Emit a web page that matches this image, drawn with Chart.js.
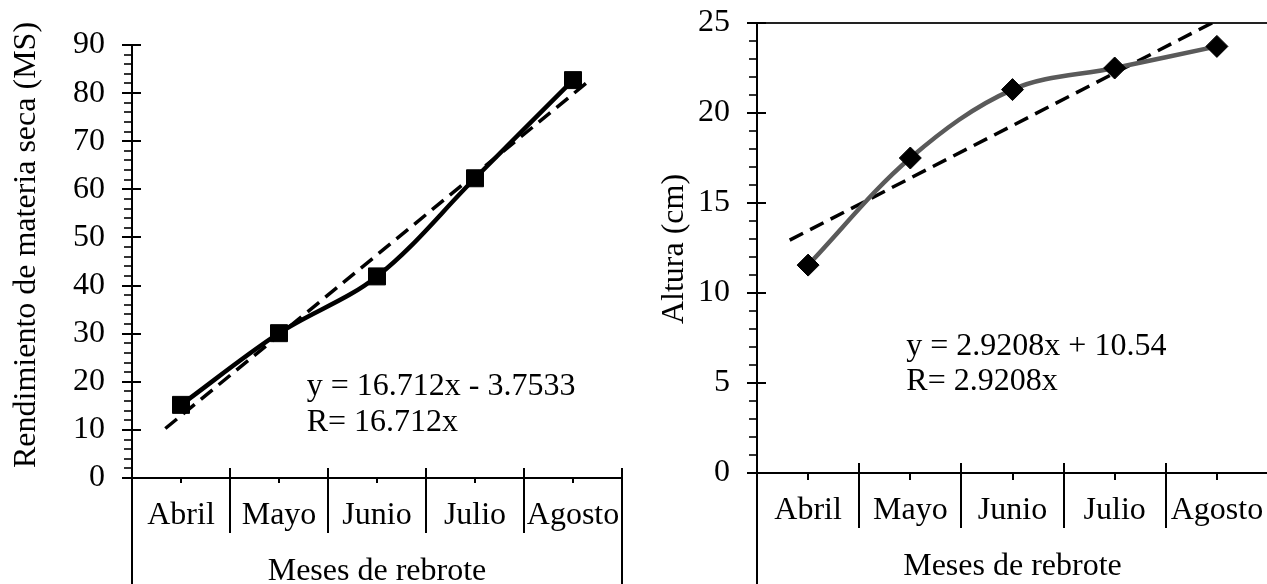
<!DOCTYPE html>
<html>
<head>
<meta charset="utf-8">
<script src="https://cdn.jsdelivr.net/npm/chart.js@4.4.1/dist/chart.umd.min.js"></script>
<style>
  html, body { margin: 0; padding: 0; background: #fff; overflow: hidden; }
  #wrap { position: relative; width: 1267px; height: 584px; overflow: hidden; }
  .panel { position: absolute; top: 0; width: 640px; height: 584px; }
  #left { left: 0; }
  #right { left: 640px; }
</style>
</head>
<body>
<div id="wrap">
  <div class="panel" id="left"><canvas id="msChart" width="640" height="584"></canvas></div>
  <div class="panel" id="right"><canvas id="heightChart" width="640" height="584"></canvas></div>
</div>
<script>
// ─── DATA ───
const months = ['Abril', 'Mayo', 'Junio', 'Julio', 'Agosto'];
const monthIndex = [1, 2, 3, 4, 5];

// dry matter yield per month
const dryMatter = [15.2, 30.1, 41.9, 62.3, 82.7];
// linear trend: slope, intercept, and the x span it is drawn over
const dryMatterTrend = [16.712, -3.7533];
const dryMatterSpan = [0.84, 5.14];
const dryMatterEq = ['y = 16.712x - 3.7533', 'R= 16.712x'];

// plant height per month
const plantHeight = [11.55, 17.5, 21.3, 22.5, 23.7];
const plantHeightTrend = [2.9208, 10.54];
const plantHeightSpan = [0.82, 4.96];
const plantHeightEq = ['y = 2.9208x + 10.54', 'R= 2.9208x'];

const FONT = { family: "'Liberation Serif', 'Times New Roman', serif", size: 32 };
const FONT_CSS = "32px 'Liberation Serif', 'Times New Roman', serif";
const CLEAR = 'rgba(0,0,0,0)';

function trendPoints(coef, span) {
  return span.map(x => ({ x: x, y: coef[0] * x + coef[1] }));
}

// ─── AXIS DECORATION: minor ticks, month dividers, titles, equation ───
function decorPlugin(cfg) {
  return {
    id: 'decor',
    afterDraw(chart) {
      const { ctx, chartArea: a, scales: { x, y } } = chart;
      const H = chart.height;
      ctx.save();
      ctx.strokeStyle = '#000';
      ctx.lineCap = 'butt';

      // y ticks (major ones cross the axis)
      for (let v = y.min; v <= y.max + 1e-9; v += cfg.minor) {
        const py = Math.round(y.getPixelForValue(v));
        const isMajor = Math.abs(v / cfg.major - Math.round(v / cfg.major)) < 1e-6;
        ctx.lineWidth = isMajor ? 2 : 1.6;
        ctx.beginPath();
        ctx.moveTo(a.left - (isMajor ? 10 : 8), py);
        ctx.lineTo(a.left + (isMajor ? 9 : 0), py);
        ctx.stroke();
      }

      // month dividers and centre ticks
      ctx.lineWidth = 2;
      for (let i = 0; i <= months.length; i++) {
        const px = Math.round(x.getPixelForValue(i + 0.5));
        const outer = i === 0 || i === months.length;
        ctx.beginPath();
        ctx.moveTo(px, a.bottom - (i === 0 ? 0 : 10));
        ctx.lineTo(px, outer ? H : a.bottom + 55);
        ctx.stroke();
      }
      monthIndex.forEach(m => {
        const px = Math.round(x.getPixelForValue(m));
        ctx.beginPath();
        ctx.moveTo(px, a.bottom);
        ctx.lineTo(px, a.bottom + cfg.centreTick);
        ctx.stroke();
      });

      ctx.fillStyle = '#000';
      ctx.font = FONT_CSS;

      // y axis title
      ctx.save();
      ctx.translate(cfg.titleX, cfg.titleY);
      ctx.rotate(-Math.PI / 2);
      ctx.textAlign = 'center';
      ctx.textBaseline = 'alphabetic';
      ctx.fillText(cfg.yTitle, 0, 0);
      ctx.restore();

      // regression equation
      ctx.textAlign = 'left';
      ctx.textBaseline = 'alphabetic';
      cfg.eq.forEach((line, k) => {
        ctx.fillText(line, x.getPixelForValue(cfg.eqAt[0]), y.getPixelForValue(cfg.eqAt[1 + k]));
      });
      ctx.restore();
    }
  };
}

function buildChart(id, o) {
  return new Chart(document.getElementById(id), {
    type: 'line',
    data: {
      datasets: [
        {
          data: o.values.map((v, i) => ({ x: monthIndex[i], y: v })),
          borderColor: o.lineColor,
          borderWidth: 4.5,
          tension: 0.35,
          pointStyle: o.marker,
          pointRadius: o.markerSize,
          pointBackgroundColor: '#000',
          pointBorderColor: '#000',
          pointBorderWidth: 1,
          order: 1
        },
        {
          data: trendPoints(o.trend, o.span),
          borderColor: '#000',
          borderWidth: 3.5,
          borderDash: [15, 8],
          pointRadius: 0,
          tension: 0,
          order: 2
        }
      ]
    },
    options: {
      responsive: false,
      animation: false,
      layout: { padding: o.padding },
      plugins: { legend: { display: false }, tooltip: { enabled: false } },
      scales: {
        x: {
          type: 'linear',
          min: 0.5,
          max: 5.5,
          afterBuildTicks: s => { s.ticks = monthIndex.map(v => ({ value: v })); },
          ticks: {
            callback: v => months[v - 1],
            font: FONT,
            color: '#000',
            padding: 0,
            autoSkip: false,
            maxRotation: 0
          },
          // invisible tick marks only push the labels below the axis
          grid: { display: true, drawTicks: true, tickLength: 18.5, color: CLEAR, tickColor: CLEAR },
          border: { display: true, color: '#000', width: 2 },
          title: { display: true, text: 'Meses de rebrote', font: FONT, color: '#000', padding: { top: 0, bottom: o.xTitlePad } },
          afterFit: s => { s.height = o.xHeight; }
        },
        y: {
          min: o.yMin,
          max: o.yMax,
          ticks: { stepSize: o.major, font: FONT, color: '#000', padding: 0 },
          grid: {
            display: true,
            drawTicks: true,
            tickLength: 27,
            tickColor: CLEAR,
            lineWidth: 2,
            color: c => (o.topLine && c.tick && c.tick.value === o.yMax) ? '#222' : CLEAR
          },
          border: { display: true, color: '#000', width: 2 },
          afterFit: s => { s.width = o.yWidth; }
        }
      }
    },
    plugins: [decorPlugin(o.decor)]
  });
}

// ─── LEFT: DRY MATTER ───
buildChart('msChart', {
  values: dryMatter,
  trend: dryMatterTrend,
  span: dryMatterSpan,
  lineColor: '#000',
  marker: 'rect',
  markerSize: 12,
  yMin: 0, yMax: 90, major: 10,
  topLine: false,
  yWidth: 132,
  xHeight: 106,
  xTitlePad: -7,
  padding: { left: 0, right: 18, top: 45, bottom: 0 },
  decor: {
    minor: 2, major: 10, centreTick: 5,
    yTitle: 'Rendimiento de materia seca (MS)', titleX: 35, titleY: 245,
    eq: dryMatterEq, eqAt: [2.283, 17.3, 9.7]
  }
});

// ─── RIGHT: PLANT HEIGHT ───
buildChart('heightChart', {
  values: plantHeight,
  trend: plantHeightTrend,
  span: plantHeightSpan,
  lineColor: '#5a5a5a',
  marker: 'rectRot',
  markerSize: 11,
  yMin: 0, yMax: 25, major: 5,
  topLine: true,
  yWidth: 117,
  xHeight: 111,
  xTitlePad: -2,
  padding: { left: 0, right: 10, top: 23, bottom: 0 },
  decor: {
    minor: 1, major: 5, centreTick: 7,
    yTitle: 'Altura (cm)', titleX: 43, titleY: 249,
    eq: plantHeightEq, eqAt: [1.961, 6.55, 4.6]
  }
});
</script>
</body>
</html>
